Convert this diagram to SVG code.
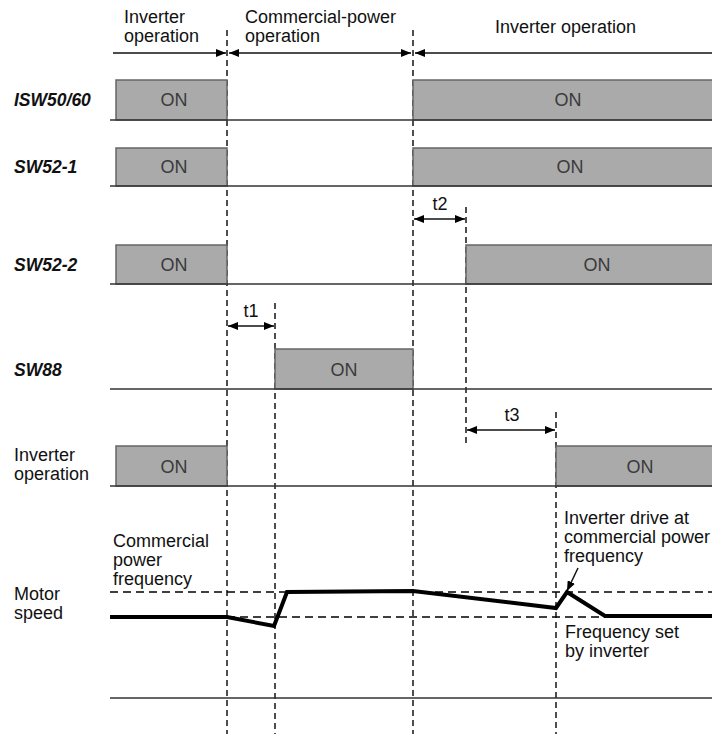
<svg xmlns="http://www.w3.org/2000/svg" width="712" height="734" viewBox="0 0 712 734">
<style>
text{font-family:"Liberation Sans",Arial,sans-serif;font-size:18px;fill:#111}
.lbl{font-weight:bold;font-style:italic;font-size:17.5px}
.on{fill:#3a3a3a;text-anchor:middle}
.box{fill:#aaaaaa;stroke:#666;stroke-width:1.5}
.base{stroke:#333;stroke-width:1.5;fill:none}
.vd{stroke:#222;stroke-width:1.6;stroke-dasharray:6,4;fill:none}
.hd{stroke:#000;stroke-width:1.3;stroke-dasharray:8,5;fill:none}
.arr{stroke:#111;stroke-width:1.5;fill:none}
.spd{stroke:#000;stroke-width:4;fill:none;stroke-linejoin:miter}
</style>
<defs>
<marker id="ah" viewBox="0 0 10 8" refX="10" refY="4" markerWidth="10" markerHeight="8" markerUnits="userSpaceOnUse" orient="auto-start-reverse">
<path d="M0,0 L10,4 L0,8 Z" fill="#000"/>
</marker>
</defs>

<g id="guides">
<line class="vd" x1="227" y1="30" x2="227" y2="734"/>
<line class="vd" x1="413" y1="30" x2="413" y2="734"/>
<line class="vd" x1="275" y1="303" x2="275" y2="734"/>
<line class="vd" x1="466" y1="207" x2="466" y2="447"/>
<line class="vd" x1="556" y1="412" x2="556" y2="734"/>
</g>

<g id="phase-labels">
<text x="124" y="23">Inverter</text>
<text x="124" y="42">operation</text>
<text x="245" y="23">Commercial-power</text>
<text x="245" y="42">operation</text>
<text x="495" y="33">Inverter operation</text>
</g>

<g id="connectors">
<line class="arr" x1="113" y1="53" x2="226" y2="53" marker-end="url(#ah)"/>
<line class="arr" x1="229" y1="53" x2="411" y2="53" marker-start="url(#ah)" marker-end="url(#ah)"/>
<line class="arr" x1="415" y1="53" x2="712" y2="53" marker-start="url(#ah)"/>
<line class="arr" x1="414" y1="219" x2="465" y2="219" marker-start="url(#ah)" marker-end="url(#ah)"/>
<line class="arr" x1="228" y1="326" x2="274" y2="326" marker-start="url(#ah)" marker-end="url(#ah)"/>
<line class="arr" x1="467" y1="430" x2="555" y2="430" marker-start="url(#ah)" marker-end="url(#ah)"/>
<line class="arr" x1="578" y1="568" x2="567" y2="591" marker-end="url(#ah)"/>
</g>

<g id="timing-labels">
<text x="440" y="210" text-anchor="middle">t2</text>
<text x="251" y="317" text-anchor="middle">t1</text>
<text x="512" y="421" text-anchor="middle">t3</text>
</g>

<g id="row-isw">
<text class="lbl" x="14" y="106">ISW50/60</text>
<rect class="box" x="116" y="80" width="111" height="40"/>
<rect class="box" x="413" y="80" width="305" height="40"/>
<line class="base" x1="110" y1="120" x2="712" y2="120"/>
<text class="on" x="174" y="106">ON</text>
<text class="on" x="568" y="106">ON</text>
</g>

<g id="row-sw52-1">
<text class="lbl" x="14" y="173">SW52-1</text>
<rect class="box" x="116" y="148" width="111" height="38"/>
<rect class="box" x="413" y="148" width="305" height="38"/>
<line class="base" x1="110" y1="186" x2="712" y2="186"/>
<text class="on" x="174" y="173">ON</text>
<text class="on" x="570" y="173">ON</text>
</g>

<g id="row-sw52-2">
<text class="lbl" x="14" y="271">SW52-2</text>
<rect class="box" x="116" y="245" width="111" height="39"/>
<rect class="box" x="466" y="245" width="252" height="39"/>
<line class="base" x1="110" y1="284" x2="712" y2="284"/>
<text class="on" x="174" y="271">ON</text>
<text class="on" x="597" y="271">ON</text>
</g>

<g id="row-sw88">
<text class="lbl" x="14" y="376">SW88</text>
<rect class="box" x="275" y="349" width="138" height="40"/>
<line class="base" x1="110" y1="389" x2="712" y2="389"/>
<text class="on" x="344" y="376">ON</text>
</g>

<g id="row-inv">
<text x="14" y="461">Inverter</text>
<text x="14" y="480">operation</text>
<rect class="box" x="116" y="446" width="111" height="40"/>
<rect class="box" x="556" y="446" width="162" height="40"/>
<line class="base" x1="110" y1="486" x2="712" y2="486"/>
<text class="on" x="174" y="473">ON</text>
<text class="on" x="640" y="473">ON</text>
</g>

<g id="motor-speed">
<text x="14" y="600">Motor</text>
<text x="14" y="619">speed</text>
<text x="113" y="547">Commercial</text>
<text x="113" y="566">power</text>
<text x="113" y="585">frequency</text>
<text x="564" y="524">Inverter drive at</text>
<text x="564" y="543">commercial power</text>
<text x="564" y="562">frequency</text>
<text x="565" y="638">Frequency set</text>
<text x="565" y="657">by inverter</text>
<line class="hd" x1="110" y1="592" x2="712" y2="592"/>
<line class="hd" x1="110" y1="617" x2="712" y2="617"/>
<line class="base" x1="110" y1="698" x2="712" y2="698"/>
<polyline class="spd" points="110,617 227,617 274,626 287,592 413,591 556,608 567,592 605,616 712,616"/>
</g>
</svg>
